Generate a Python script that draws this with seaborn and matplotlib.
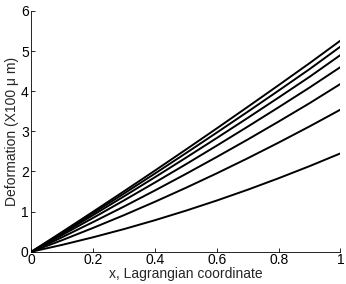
import numpy as np
import pandas as pd
import matplotlib
matplotlib.use('Agg')
import matplotlib.pyplot as plt
import seaborn as sns

x = [0.0, 0.1, 0.2, 0.3, 0.4, 0.5, 0.6, 0.7, 0.8, 0.9, 1.0]
curve1 = [0.0, 0.172, 0.361, 0.565, 0.786, 1.023, 1.276, 1.545, 1.831, 2.132, 2.45]
curve2 = [0.0, 0.290, 0.595, 0.913, 1.246, 1.593, 1.954, 2.329, 2.719, 3.122, 3.54]
curve3 = [0.0, 0.364, 0.741, 1.128, 1.528, 1.939, 2.362, 2.796, 3.243, 3.700, 4.18]
curve4 = [0.0, 0.418, 0.845, 1.281, 1.726, 2.180, 2.644, 3.117, 3.599, 4.090, 4.60]
curve5 = [0.0, 0.453, 0.914, 1.382, 1.858, 2.342, 2.834, 3.334, 3.842, 4.357, 4.90]
curve6 = [0.0, 0.477, 0.961, 1.452, 1.950, 2.456, 2.969, 3.488, 4.015, 4.549, 5.11]
curve7 = [0.0, 0.497, 1.000, 1.509, 2.024, 2.546, 3.074, 3.609, 4.150, 4.697, 5.26]

curves = [curve1, curve2, curve3, curve4, curve5, curve6, curve7]
df = pd.concat([pd.DataFrame({'x': x, 'y': c, 'curve': i}) for i, c in enumerate(curves)])

sns.set_style('white')
plt.rcParams['font.family'] = ['Liberation Sans', 'DejaVu Sans']

fig = plt.figure(figsize=(3.46, 2.84), dpi=100)
ax = fig.add_axes([0.091, 0.1137, 0.893, 0.848])
sns.lineplot(data=df, x='x', y='y', units='curve', estimator=None,
             color='black', linewidth=1.4, ax=ax, legend=False)

ax.set_xlim(0, 1)
ax.set_ylim(0, 6)
ax.set_xticks([0, 0.2, 0.4, 0.6, 0.8, 1])
ax.set_xticklabels(['0', '0.2', '0.4', '0.6', '0.8', '1'])
ax.set_yticks([0, 1, 2, 3, 4, 5, 6])
ax.tick_params(direction='in', length=3, width=0.6, labelsize=10, pad=1,
               colors='black', bottom=True, left=True)
ax.tick_params(axis='y', pad=2)
for side in ['top', 'right']:
    ax.spines[side].set_visible(False)
for side in ['left', 'bottom']:
    ax.spines[side].set_color('black')
    ax.spines[side].set_linewidth(0.6)

ax.set_xlabel('x, Lagrangian coordinate', fontsize=10, labelpad=0)
ax.set_ylabel('Deformation (X100 \u03bc m)', fontsize=10, labelpad=1)

fig.savefig('out.png', dpi=100)
